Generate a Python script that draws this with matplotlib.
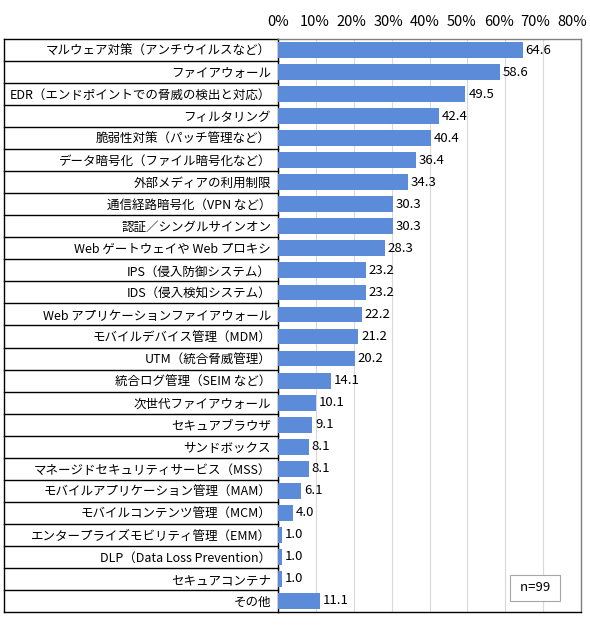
import matplotlib
matplotlib.use("Agg")
import matplotlib.pyplot as plt
import matplotlib.transforms as mtransforms
import numpy as np

plt.rcParams["font.family"] = ["Noto Sans CJK JP", "DejaVu Sans"]

CATEGORIES = [
    "マルウェア対策（アンチウイルスなど）",
    "ファイアウォール",
    "EDR（エンドポイントでの脅威の検出と対応）",
    "フィルタリング",
    "脆弱性対策（パッチ管理など）",
    "データ暗号化（ファイル暗号化など）",
    "外部メディアの利用制限",
    "通信経路暗号化（VPN など）",
    "認証／シングルサインオン",
    "Web ゲートウェイや Web プロキシ",
    "IPS（侵入防御システム）",
    "IDS（侵入検知システム）",
    "Web アプリケーションファイアウォール",
    "モバイルデバイス管理（MDM）",
    "UTM（統合脅威管理）",
    "統合ログ管理（SEIM など）",
    "次世代ファイアウォール",
    "セキュアブラウザ",
    "サンドボックス",
    "マネージドセキュリティサービス（MSS）",
    "モバイルアプリケーション管理（MAM）",
    "モバイルコンテンツ管理（MCM）",
    "エンタープライズモビリティ管理（EMM）",
    "DLP（Data Loss Prevention）",
    "セキュアコンテナ",
    "その他",
]
VALUES = [64.6, 58.6, 49.5, 42.4, 40.4, 36.4, 34.3, 30.3, 30.3, 28.3, 23.2, 23.2,
          22.2, 21.2, 20.2, 14.1, 10.1, 9.1, 8.1, 8.1, 6.1, 4.0, 1.0, 1.0, 1.0, 11.1]
X_TICKS = [0, 10, 20, 30, 40, 50, 60, 70, 80]
SAMPLE_NOTE = "n=99"

W, H = 590, 635
BAR_COLOR = "#5B8BD9"

fig = plt.figure(figsize=(W / 100, H / 100), dpi=100)
left, right, top, bottom = 278, 581, 39, 612
ax = fig.add_axes([left / W, 1 - bottom / H, (right - left) / W, (bottom - top) / H])

y = np.arange(len(CATEGORIES))
bars = ax.barh(y, VALUES, height=0.72, color=BAR_COLOR, zorder=3)
ax.bar_label(bars, labels=[f"{v:.1f}" for v in VALUES], padding=2, fontsize=9.5)

ax.set_xlim(0, 80)
ax.set_ylim(len(CATEGORIES) - 0.5, -0.5)
ax.xaxis.tick_top()
ax.set_xticks(X_TICKS)
ax.set_xticklabels([f"{t}%" for t in X_TICKS], fontsize=10.5)
ax.tick_params(axis="x", length=0, pad=7)
# the top labels drift slightly left so the last one stays inside the picture
for i, lab in enumerate(ax.get_xticklabels()):
    shift = mtransforms.ScaledTranslation(-1.1 * i / 100, 0, fig.dpi_scale_trans)
    lab.set_transform(lab.get_transform() + shift)
ax.set_yticks(y)
ax.set_yticklabels(CATEGORIES, fontsize=9)
ax.tick_params(axis="y", length=0, pad=5)
ax.grid(axis="x", color="#d9d9d9", linewidth=0.8, zorder=0)

ax.spines["top"].set_color("#808080")
ax.spines["right"].set_color("#808080")
ax.spines["left"].set_color("black")
ax.spines["bottom"].set_color("black")
for s in ax.spines.values():
    s.set_linewidth(1.0)

# label column as a table: outer box and row separators
trans = mtransforms.blended_transform_factory(fig.transFigure, ax.transData)
x0, x1 = 4 / W, left / W
for b in np.arange(-0.5, len(CATEGORIES) + 0.5, 1.0):
    ax.plot([x0, x1], [b, b], color="black", linewidth=1.0, transform=trans, clip_on=False)
ax.plot([x0, x0], [-0.5, len(CATEGORIES) - 0.5], color="black", linewidth=1.0,
        transform=trans, clip_on=False)

ax.text(0.848, 0.042, " " + SAMPLE_NOTE + " ", transform=ax.transAxes, fontsize=9.5,
        ha="center", va="center",
        bbox=dict(boxstyle="square,pad=0.5", facecolor="white", edgecolor="#a6a6a6", linewidth=0.8))

fig.savefig("out.png", dpi=100)
